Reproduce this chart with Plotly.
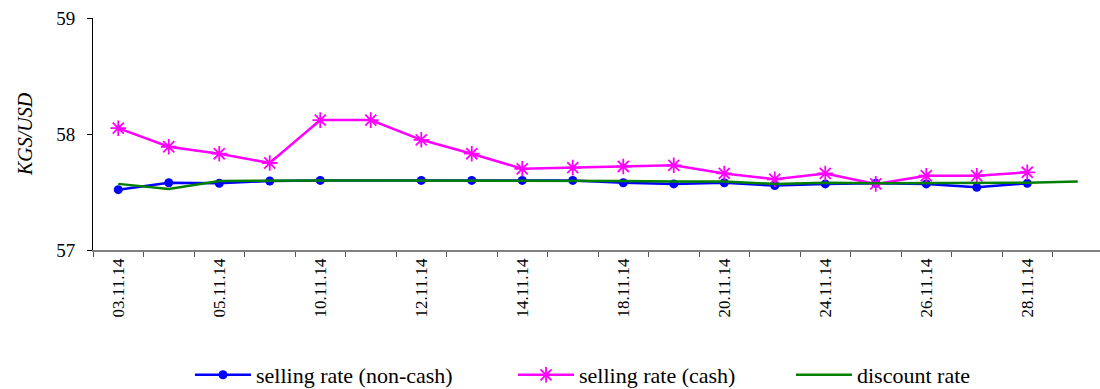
import plotly.graph_objects as go

dates = ["03.11.14", "04.11.14", "05.11.14", "06.11.14", "10.11.14", "11.11.14",
         "12.11.14", "13.11.14", "14.11.14", "17.11.14", "18.11.14", "19.11.14",
         "20.11.14", "21.11.14", "24.11.14", "25.11.14", "26.11.14", "27.11.14",
         "28.11.14", "29.11.14"]

non_cash = [57.52, 57.58, 57.575, 57.595, 57.60, None, 57.60, 57.60, 57.60, 57.60,
            57.58, 57.57, 57.58, 57.555, 57.57, 57.575, 57.57, 57.54, 57.575, None]

cash = [58.05, 57.89, 57.83, 57.75, 58.12, 58.12, 57.95, 57.83, 57.70, 57.71,
        57.72, 57.73, 57.66, 57.61, 57.66, 57.57, 57.64, 57.64, 57.67, None]

discount = [57.57, 57.525, 57.595, 57.60, 57.60, 57.60, 57.60, 57.60, 57.60, 57.60,
            57.595, 57.59, 57.59, 57.57, 57.58, 57.575, 57.575, 57.58, 57.58, 57.59]

tick_text = [d if i % 2 == 0 else "" for i, d in enumerate(dates)]

serif = "Liberation Serif"

fig = go.Figure()
fig.add_trace(go.Scatter(
    x=dates, y=non_cash, name="selling rate (non-cash)", mode="lines+markers",
    connectgaps=True, line=dict(color="#0000FF", width=2.5),
    marker=dict(symbol="circle", size=9, color="#0000FF"), legend="legend",
    showlegend=True))
fig.add_trace(go.Scatter(
    x=dates, y=cash, name="selling rate (cash)", mode="lines+markers",
    line=dict(color="#FF00FF", width=2.5),
    marker=dict(symbol="asterisk-open", size=13, color="#FF00FF",
                line=dict(color="#FF00FF", width=1.8)), legend="legend2",
    showlegend=True))
fig.add_trace(go.Scatter(
    x=dates, y=discount, name="discount rate", mode="lines",
    line=dict(color="#008000", width=2.5), legend="legend3", showlegend=True))

leg_common = dict(orientation="h", yref="container", xref="container",
                  yanchor="middle", y=0.036, xanchor="left",
                  font=dict(family=serif, size=22, color="#000000"),
                  bgcolor="rgba(0,0,0,0)", itemwidth=56, visible=True)
fig.update_layout(
    width=1100, height=389,
    showlegend=True,
    margin=dict(l=93, r=0, t=18, b=139),
    paper_bgcolor="white", plot_bgcolor="white",
    font=dict(family=serif, size=16, color="#000000"),
    legend=dict(x=0.1727, **leg_common),
    legend2=dict(x=0.4664, **leg_common),
    legend3=dict(x=0.7191, **leg_common),
    xaxis=dict(type="category", range=[-0.5, 19.44], tickmode="array",
               tickvals=dates, ticktext=tick_text, tickangle=-90,
               tickson="boundaries", ticks="outside", ticklen=5, tickcolor="#555555",
               showline=True, linecolor="#808080", linewidth=1.5,
               showgrid=False, zeroline=False, automargin=False,
               tickfont=dict(family=serif, size=17, color="#000000")),
    yaxis=dict(range=[57, 59], tickvals=[57, 58, 59], ticks="outside", ticklen=5,
               tickcolor="#000000", showline=True, linecolor="#000000", linewidth=1,
               showgrid=False, zeroline=False, automargin=False,
               ticklabelstandoff=8,
               tickfont=dict(family=serif, size=19, color="#000000")),
    annotations=[dict(text="<i>KGS/USD</i>", xref="paper", yref="paper",
                      x=-0.0675, y=0.5, xanchor="center", yanchor="middle",
                      textangle=-90, showarrow=False,
                      font=dict(family=serif, size=20, color="#000000"))],
)

fig.write_html("out.html", config={"displayModeBar": False},
               post_script="document.body.style.margin='0';")
